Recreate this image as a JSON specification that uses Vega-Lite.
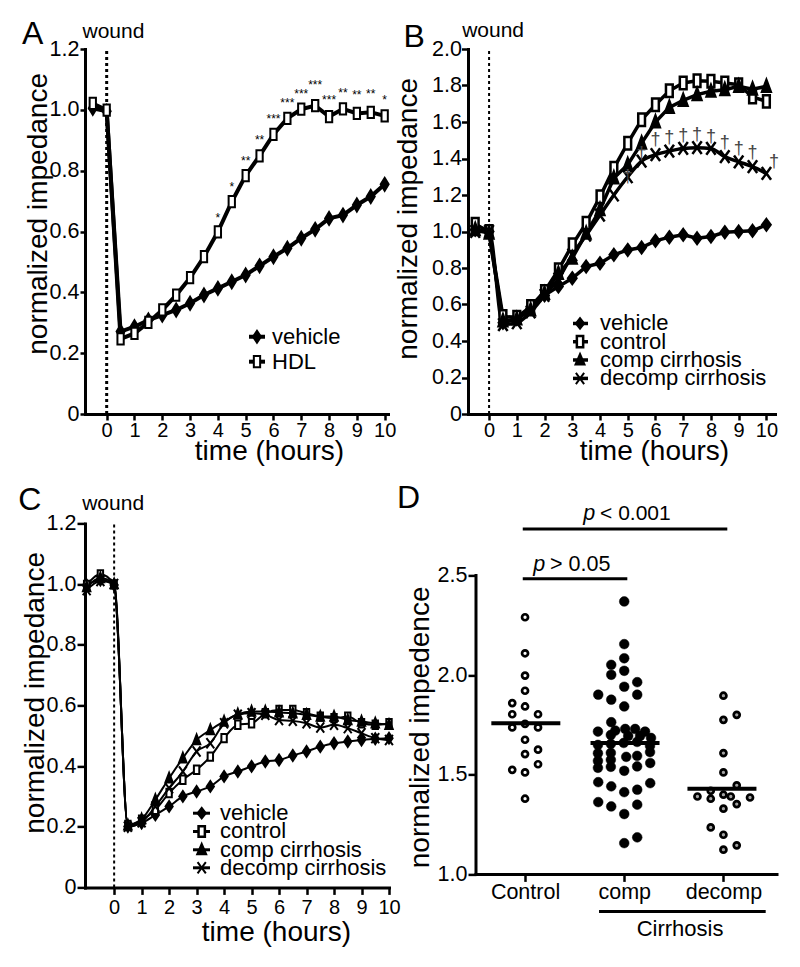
{
  "$schema": "https://vega.github.io/schema/vega-lite/v6.json",
  "background": "white",
  "padding": {"left": 18, "top": 18, "right": 5, "bottom": 5},
  "config": {
    "font": "Liberation Sans",
    "view": {"stroke": null},
    "axis": {"grid": false, "domainColor": "black", "domainWidth": 3, "domainCap": "square", "tickColor": "black", "tickWidth": 2.5, "labelColor": "black", "labelFontSize": 21.5, "labelFont": "Liberation Sans", "titleFont": "Liberation Sans", "titleFontSize": 28, "titleFontWeight": "normal", "titleColor": "black", "labelFlush": false, "labelOverlap": false, "tickCount": 20},
    "text": {"font": "Liberation Sans", "color": "black"}
  },
  "resolve": {"scale": {"shape": "independent", "fill": "independent"}},
  "datasets": {
    "one": [{"k": 1}],
    "A": [
      {"s":"vehicle","t":-0.5,"v":1.005},{"s":"vehicle","t":0,"v":0.995},{"s":"vehicle","t":0.5,"v":0.271},{"s":"vehicle","t":1,"v":0.287},{"s":"vehicle","t":1.5,"v":0.309},{"s":"vehicle","t":2,"v":0.325},{"s":"vehicle","t":2.5,"v":0.342},{"s":"vehicle","t":3,"v":0.364},{"s":"vehicle","t":3.5,"v":0.391},{"s":"vehicle","t":4,"v":0.413},{"s":"vehicle","t":4.5,"v":0.435},{"s":"vehicle","t":5,"v":0.457},{"s":"vehicle","t":5.5,"v":0.487},{"s":"vehicle","t":6,"v":0.517},{"s":"vehicle","t":6.5,"v":0.545},{"s":"vehicle","t":7,"v":0.578},{"s":"vehicle","t":7.5,"v":0.607},{"s":"vehicle","t":8,"v":0.643},{"s":"vehicle","t":8.5,"v":0.654},{"s":"vehicle","t":9,"v":0.687},{"s":"vehicle","t":9.5,"v":0.715},{"s":"vehicle","t":10,"v":0.755},
      {"s":"HDL","t":-0.5,"v":1.021},{"s":"HDL","t":0,"v":0.999},{"s":"HDL","t":0.5,"v":0.247},{"s":"HDL","t":1,"v":0.265},{"s":"HDL","t":1.5,"v":0.301},{"s":"HDL","t":2,"v":0.342},{"s":"HDL","t":2.5,"v":0.391},{"s":"HDL","t":3,"v":0.448},{"s":"HDL","t":3.5,"v":0.517},{"s":"HDL","t":4,"v":0.599},{"s":"HDL","t":4.5,"v":0.698},{"s":"HDL","t":5,"v":0.784},{"s":"HDL","t":5.5,"v":0.849},{"s":"HDL","t":6,"v":0.919},{"s":"HDL","t":6.5,"v":0.972},{"s":"HDL","t":7,"v":1.002},{"s":"HDL","t":7.5,"v":1.014},{"s":"HDL","t":8,"v":0.978},{"s":"HDL","t":8.5,"v":1.003},{"s":"HDL","t":9,"v":0.988},{"s":"HDL","t":9.5,"v":0.992},{"s":"HDL","t":10,"v":0.980}
    ],
    "Astars": [
      {"t":4,"v":0.631,"lab":"*"},{"t":4.5,"v":0.732,"lab":"*"},{"t":5,"v":0.817,"lab":"**"},{"t":5.5,"v":0.889,"lab":"**"},{"t":6,"v":0.957,"lab":"***"},{"t":6.5,"v":1.009,"lab":"***"},{"t":7,"v":1.040,"lab":"***"},{"t":7.5,"v":1.069,"lab":"***"},{"t":8,"v":1.018,"lab":"***"},{"t":8.5,"v":1.042,"lab":"**"},{"t":9,"v":1.036,"lab":"**"},{"t":9.5,"v":1.040,"lab":"**"},{"t":10,"v":1.018,"lab":"*"}
    ],
    "B": [
      {"s":"vehicle","t":-0.5,"v":1.01},{"s":"vehicle","t":0,"v":1.0},{"s":"vehicle","t":0.5,"v":0.50},{"s":"vehicle","t":1,"v":0.52},{"s":"vehicle","t":1.5,"v":0.58},{"s":"vehicle","t":2,"v":0.65},{"s":"vehicle","t":2.5,"v":0.698},{"s":"vehicle","t":3,"v":0.744},{"s":"vehicle","t":3.5,"v":0.808},{"s":"vehicle","t":4,"v":0.826},{"s":"vehicle","t":4.5,"v":0.872},{"s":"vehicle","t":5,"v":0.899},{"s":"vehicle","t":5.5,"v":0.912},{"s":"vehicle","t":6,"v":0.949},{"s":"vehicle","t":6.5,"v":0.969},{"s":"vehicle","t":7,"v":0.982},{"s":"vehicle","t":7.5,"v":0.963},{"s":"vehicle","t":8,"v":0.973},{"s":"vehicle","t":8.5,"v":0.996},{"s":"vehicle","t":9,"v":1.0},{"s":"vehicle","t":9.5,"v":1.004},{"s":"vehicle","t":10,"v":1.037},
      {"s":"control","t":-0.5,"v":1.04},{"s":"control","t":0,"v":1.0},{"s":"control","t":0.5,"v":0.534},{"s":"control","t":1,"v":0.53},{"s":"control","t":1.5,"v":0.589},{"s":"control","t":2,"v":0.671},{"s":"control","t":2.5,"v":0.79},{"s":"control","t":3,"v":0.927},{"s":"control","t":3.5,"v":1.046},{"s":"control","t":4,"v":1.19},{"s":"control","t":4.5,"v":1.347},{"s":"control","t":5,"v":1.484},{"s":"control","t":5.5,"v":1.612},{"s":"control","t":6,"v":1.695},{"s":"control","t":6.5,"v":1.771},{"s":"control","t":7,"v":1.814},{"s":"control","t":7.5,"v":1.826},{"s":"control","t":8,"v":1.823},{"s":"control","t":8.5,"v":1.814},{"s":"control","t":9,"v":1.804},{"s":"control","t":9.5,"v":1.737},{"s":"control","t":10,"v":1.713},
      {"s":"comp","t":-0.5,"v":1.01},{"s":"comp","t":0,"v":0.99},{"s":"comp","t":0.5,"v":0.51},{"s":"comp","t":1,"v":0.52},{"s":"comp","t":1.5,"v":0.57},{"s":"comp","t":2,"v":0.66},{"s":"comp","t":2.5,"v":0.77},{"s":"comp","t":3,"v":0.854},{"s":"comp","t":3.5,"v":0.99},{"s":"comp","t":4,"v":1.119},{"s":"comp","t":4.5,"v":1.293},{"s":"comp","t":5,"v":1.366},{"s":"comp","t":5.5,"v":1.484},{"s":"comp","t":6,"v":1.60},{"s":"comp","t":6.5,"v":1.68},{"s":"comp","t":7,"v":1.718},{"s":"comp","t":7.5,"v":1.75},{"s":"comp","t":8,"v":1.768},{"s":"comp","t":8.5,"v":1.777},{"s":"comp","t":9,"v":1.795},{"s":"comp","t":9.5,"v":1.78},{"s":"comp","t":10,"v":1.795},
      {"s":"decomp","t":-0.5,"v":1.0},{"s":"decomp","t":0,"v":1.0},{"s":"decomp","t":0.5,"v":0.49},{"s":"decomp","t":1,"v":0.50},{"s":"decomp","t":1.5,"v":0.56},{"s":"decomp","t":2,"v":0.65},{"s":"decomp","t":2.5,"v":0.74},{"s":"decomp","t":3,"v":0.872},{"s":"decomp","t":3.5,"v":0.98},{"s":"decomp","t":4,"v":1.09},{"s":"decomp","t":4.5,"v":1.2},{"s":"decomp","t":5,"v":1.30},{"s":"decomp","t":5.5,"v":1.386},{"s":"decomp","t":6,"v":1.421},{"s":"decomp","t":6.5,"v":1.441},{"s":"decomp","t":7,"v":1.455},{"s":"decomp","t":7.5,"v":1.459},{"s":"decomp","t":8,"v":1.455},{"s":"decomp","t":8.5,"v":1.41},{"s":"decomp","t":9,"v":1.382},{"s":"decomp","t":9.5,"v":1.355},{"s":"decomp","t":10,"v":1.318}
    ],
    "Bdag": [
      {"t":5,"v":1.27,"lab":"†"},{"t":5.5,"v":1.395,"lab":"†"},{"t":6,"v":1.472,"lab":"†"},{"t":6.5,"v":1.484,"lab":"†"},{"t":7,"v":1.495,"lab":"†"},{"t":7.5,"v":1.50,"lab":"†"},{"t":8,"v":1.492,"lab":"†"},{"t":8.5,"v":1.457,"lab":"†"},{"t":9,"v":1.426,"lab":"†"},{"t":9.5,"v":1.404,"lab":"†"},{"t":10.27,"v":1.356,"lab":"†"}
    ],
    "C": [
      {"s":"vehicle","t":-1,"v":0.997},{"s":"vehicle","t":-0.5,"v":1.013},{"s":"vehicle","t":0,"v":0.997},{"s":"vehicle","t":0.5,"v":0.201},{"s":"vehicle","t":1,"v":0.212},{"s":"vehicle","t":1.5,"v":0.239},{"s":"vehicle","t":2,"v":0.267},{"s":"vehicle","t":2.5,"v":0.30},{"s":"vehicle","t":3,"v":0.316},{"s":"vehicle","t":3.5,"v":0.333},{"s":"vehicle","t":4,"v":0.366},{"s":"vehicle","t":4.5,"v":0.382},{"s":"vehicle","t":5,"v":0.399},{"s":"vehicle","t":5.5,"v":0.415},{"s":"vehicle","t":6,"v":0.42},{"s":"vehicle","t":6.5,"v":0.435},{"s":"vehicle","t":7,"v":0.448},{"s":"vehicle","t":7.5,"v":0.464},{"s":"vehicle","t":8,"v":0.475},{"s":"vehicle","t":8.5,"v":0.481},{"s":"vehicle","t":9,"v":0.486},{"s":"vehicle","t":9.5,"v":0.49},{"s":"vehicle","t":10,"v":0.492},
      {"s":"control","t":-1,"v":0.997},{"s":"control","t":-0.5,"v":1.032},{"s":"control","t":0,"v":0.999},{"s":"control","t":0.5,"v":0.206},{"s":"control","t":1,"v":0.223},{"s":"control","t":1.5,"v":0.256},{"s":"control","t":2,"v":0.311},{"s":"control","t":2.5,"v":0.355},{"s":"control","t":3,"v":0.388},{"s":"control","t":3.5,"v":0.431},{"s":"control","t":4,"v":0.492},{"s":"control","t":4.5,"v":0.536},{"s":"control","t":5,"v":0.541},{"s":"control","t":5.5,"v":0.574},{"s":"control","t":6,"v":0.585},{"s":"control","t":6.5,"v":0.585},{"s":"control","t":7,"v":0.574},{"s":"control","t":7.5,"v":0.563},{"s":"control","t":8,"v":0.558},{"s":"control","t":8.5,"v":0.563},{"s":"control","t":9,"v":0.541},{"s":"control","t":9.5,"v":0.536},{"s":"control","t":10,"v":0.541},
      {"s":"comp","t":-1,"v":0.99},{"s":"comp","t":-0.5,"v":1.02},{"s":"comp","t":0,"v":1.0},{"s":"comp","t":0.5,"v":0.205},{"s":"comp","t":1,"v":0.225},{"s":"comp","t":1.5,"v":0.289},{"s":"comp","t":2,"v":0.36},{"s":"comp","t":2.5,"v":0.426},{"s":"comp","t":3,"v":0.486},{"s":"comp","t":3.5,"v":0.519},{"s":"comp","t":4,"v":0.547},{"s":"comp","t":4.5,"v":0.571},{"s":"comp","t":5,"v":0.58},{"s":"comp","t":5.5,"v":0.58},{"s":"comp","t":6,"v":0.577},{"s":"comp","t":6.5,"v":0.574},{"s":"comp","t":7,"v":0.569},{"s":"comp","t":7.5,"v":0.563},{"s":"comp","t":8,"v":0.563},{"s":"comp","t":8.5,"v":0.552},{"s":"comp","t":9,"v":0.547},{"s":"comp","t":9.5,"v":0.541},{"s":"comp","t":10,"v":0.536},
      {"s":"decomp","t":-1,"v":0.98},{"s":"decomp","t":-0.5,"v":1.01},{"s":"decomp","t":0,"v":1.0},{"s":"decomp","t":0.5,"v":0.2},{"s":"decomp","t":1,"v":0.215},{"s":"decomp","t":1.5,"v":0.267},{"s":"decomp","t":2,"v":0.327},{"s":"decomp","t":2.5,"v":0.382},{"s":"decomp","t":3,"v":0.448},{"s":"decomp","t":3.5,"v":0.475},{"s":"decomp","t":4,"v":0.541},{"s":"decomp","t":4.5,"v":0.569},{"s":"decomp","t":5,"v":0.574},{"s":"decomp","t":5.5,"v":0.569},{"s":"decomp","t":6,"v":0.552},{"s":"decomp","t":6.5,"v":0.549},{"s":"decomp","t":7,"v":0.541},{"s":"decomp","t":7.5,"v":0.527},{"s":"decomp","t":8,"v":0.536},{"s":"decomp","t":8.5,"v":0.525},{"s":"decomp","t":9,"v":0.508},{"s":"decomp","t":9.5,"v":0.492},{"s":"decomp","t":10,"v":0.486}
    ],
    "D": [
      {"g":"Control","x":1,"v":2.291},{"g":"Control","x":1,"v":2.110},{"g":"Control","x":1,"v":1.998},{"g":"Control","x":1,"v":1.922},{"g":"Control","x":0.871,"v":1.860},{"g":"Control","x":1,"v":1.843},{"g":"Control","x":0.871,"v":1.804},{"g":"Control","x":1.131,"v":1.804},{"g":"Control","x":0.871,"v":1.738},{"g":"Control","x":1,"v":1.756},{"g":"Control","x":1.131,"v":1.738},{"g":"Control","x":1,"v":1.676},{"g":"Control","x":1,"v":1.604},{"g":"Control","x":1.131,"v":1.626},{"g":"Control","x":1.131,"v":1.553},{"g":"Control","x":0.871,"v":1.525},{"g":"Control","x":1,"v":1.512},{"g":"Control","x":1,"v":1.38},
      {"g":"comp","x":2,"v":2.370},{"g":"comp","x":2,"v":2.156},{"g":"comp","x":2,"v":2.085},{"g":"comp","x":1.869,"v":2.052},{"g":"comp","x":1.869,"v":2.002},{"g":"comp","x":2,"v":2.022},{"g":"comp","x":2.131,"v":1.965},{"g":"comp","x":2,"v":1.942},{"g":"comp","x":1.738,"v":1.902},{"g":"comp","x":2.131,"v":1.902},{"g":"comp","x":1.869,"v":1.877},{"g":"comp","x":2,"v":1.843},{"g":"comp","x":1.869,"v":1.764},
      {"g":"comp","x":1.735,"v":1.717},{"g":"comp","x":1.91,"v":1.722},{"g":"comp","x":2.01,"v":1.73},{"g":"comp","x":2.11,"v":1.73},{"g":"comp","x":2.21,"v":1.717},
      {"g":"comp","x":1.865,"v":1.70},{"g":"comp","x":2.04,"v":1.695},{"g":"comp","x":2.16,"v":1.695},{"g":"comp","x":2.27,"v":1.685},
      {"g":"comp","x":1.735,"v":1.65},{"g":"comp","x":1.865,"v":1.655},{"g":"comp","x":1.995,"v":1.66},{"g":"comp","x":2.13,"v":1.665},{"g":"comp","x":2.26,"v":1.645},
      {"g":"comp","x":1.735,"v":1.608},{"g":"comp","x":1.865,"v":1.61},{"g":"comp","x":2.02,"v":1.59},{"g":"comp","x":2.13,"v":1.595},{"g":"comp","x":2.26,"v":1.614},
      {"g":"comp","x":1.735,"v":1.57},{"g":"comp","x":1.865,"v":1.575},
      {"g":"comp","x":1.735,"v":1.535},{"g":"comp","x":1.865,"v":1.54},{"g":"comp","x":2.0,"v":1.52},{"g":"comp","x":2.13,"v":1.542},{"g":"comp","x":2.262,"v":1.559},
      {"g":"comp","x":1.738,"v":1.463},{"g":"comp","x":1.869,"v":1.442},{"g":"comp","x":2.262,"v":1.458},{"g":"comp","x":2,"v":1.413},{"g":"comp","x":2.131,"v":1.425},{"g":"comp","x":1.738,"v":1.363},{"g":"comp","x":1.869,"v":1.341},{"g":"comp","x":2.131,"v":1.350},{"g":"comp","x":2,"v":1.303},{"g":"comp","x":2.131,"v":1.186},{"g":"comp","x":2,"v":1.157},
      {"g":"decomp","x":3,"v":1.897},{"g":"decomp","x":3,"v":1.776},{"g":"decomp","x":3.134,"v":1.801},{"g":"decomp","x":3,"v":1.609},{"g":"decomp","x":3,"v":1.512},{"g":"decomp","x":3.134,"v":1.447},{"g":"decomp","x":2.872,"v":1.420},{"g":"decomp","x":2.738,"v":1.391},{"g":"decomp","x":2.872,"v":1.380},{"g":"decomp","x":3,"v":1.400},{"g":"decomp","x":3.074,"v":1.391},{"g":"decomp","x":3.268,"v":1.386},{"g":"decomp","x":3.134,"v":1.353},{"g":"decomp","x":3,"v":1.330},{"g":"decomp","x":2.872,"v":1.236},{"g":"decomp","x":3,"v":1.199},{"g":"decomp","x":3.134,"v":1.146},{"g":"decomp","x":3,"v":1.124}
    ],
    "Dmed": [
      {"g":"Control","x":1.008,"v":1.759},{"g":"comp","x":2.008,"v":1.659},{"g":"decomp","x":2.985,"v":1.43}
    ]
  },
  "columns": 2,
  "bounds": "flush",
  "align": "each",
  "spacing": {"row": 109.4, "column": 79},
  "concat": [
    {
      "width": 303, "height": 365,
      "layer": [
        {"data": {"name": "one"}, "mark": {"type": "rule", "color": "black", "strokeWidth": 3, "strokeDash": [3, 3]},
         "encoding": {"x": {"datum": 0, "type": "quantitative"}, "y": {"datum": 0, "type": "quantitative"}, "y2": {"datum": 1.2}}},
        {"data": {"name": "A"}, "mark": {"type": "line", "color": "black", "strokeWidth": 4},
         "encoding": {
           "x": {"field": "t", "type": "quantitative", "scale": {"domain": [-0.78, 10.12], "nice": false, "zero": false},
                 "axis": {"values": [0,1,2,3,4,5,6,7,8,9,10], "format": "d", "tickCount": 20, "labelOverlap": false, "labelFontSize": 20, "title": "time (hours)", "titleX": 184, "titleY": 45.5, "titleBaseline": "alphabetic", "titleAlign": "center", "tickSize": 6, "labelPadding": 0}},
           "y": {"field": "v", "type": "quantitative", "scale": {"domain": [0, 1.2], "nice": false, "zero": false},
                 "axis": {"values": [0,0.2,0.4,0.6,0.8,1,1.2], "tickCount": 20, "labelOverlap": false, "labelExpr": "datum.value == 0 ? '0' : format(datum.value, '.1f')", "title": "normalized impedance", "titleX": -39, "titleY": 164.4, "titleAngle": -90, "titleAlign": "center", "titleBaseline": "alphabetic", "tickSize": 5, "labelPadding": 1}},
           "detail": {"field": "s"}}},
        {"data": {"name": "A"}, "mark": {"type": "point", "stroke": "black", "strokeWidth": 2, "opacity": 1, "size": 225},
         "encoding": {
           "x": {"field": "t", "type": "quantitative"},
           "y": {"field": "v", "type": "quantitative"},
           "shape": {"field": "s", "type": "nominal", "scale": {"domain": ["vehicle", "HDL"], "range": ["M0,-0.87L0.53,0L0,0.87L-0.53,0Z", "M-0.42,-0.75H0.42V0.75H-0.42Z"]}, "legend": null},
           "fill": {"field": "s", "type": "nominal", "scale": {"domain": ["vehicle", "HDL"], "range": ["black", "white"]}, "legend": null}
         }},
        {"data": {"name": "Astars"}, "mark": {"type": "text", "fontSize": 12, "baseline": "alphabetic", "align": "center"},
         "encoding": {"x": {"field": "t", "type": "quantitative"}, "y": {"field": "v", "type": "quantitative"}, "text": {"field": "lab"}}},
        {"data": {"name": "one"}, "mark": {"type": "rule", "color": "black", "strokeWidth": 4},
         "encoding": {"x": {"datum": 5.119, "type": "quantitative"}, "x2": {"datum": 5.695}, "y": {"datum": 0.254, "type": "quantitative"}}},
        {"data": {"name": "one"}, "mark": {"type": "point", "shape": "M0,-0.8L0.53,0L0,0.8L-0.53,0Z", "fill": "black", "stroke": "black", "strokeWidth": 2, "size": 225, "opacity": 1},
         "encoding": {"x": {"datum": 5.407, "type": "quantitative"}, "y": {"datum": 0.254, "type": "quantitative"}}},
        {"data": {"name": "one"}, "mark": {"type": "text", "text": "vehicle", "fontSize": 22, "baseline": "middle", "align": "left"},
         "encoding": {"x": {"datum": 5.947, "type": "quantitative"}, "y": {"datum": 0.254, "type": "quantitative"}}},
        {"data": {"name": "one"}, "mark": {"type": "rule", "color": "black", "strokeWidth": 4},
         "encoding": {"x": {"datum": 5.119, "type": "quantitative"}, "x2": {"datum": 5.695}, "y": {"datum": 0.172, "type": "quantitative"}}},
        {"data": {"name": "one"}, "mark": {"type": "point", "shape": "M-0.42,-0.75H0.42V0.75H-0.42Z", "fill": "white", "stroke": "black", "strokeWidth": 2, "size": 225, "opacity": 1},
         "encoding": {"x": {"datum": 5.407, "type": "quantitative"}, "y": {"datum": 0.172, "type": "quantitative"}}},
        {"data": {"name": "one"}, "mark": {"type": "text", "text": "HDL", "fontSize": 22, "baseline": "middle", "align": "left"},
         "encoding": {"x": {"datum": 5.947, "type": "quantitative"}, "y": {"datum": 0.172, "type": "quantitative"}}},
        {"data": {"name": "one"}, "mark": {"type": "text", "text": "wound", "fontSize": 21, "baseline": "alphabetic", "align": "center"},
         "encoding": {"x": {"datum": 0.244, "type": "quantitative"}, "y": {"datum": 1.235, "type": "quantitative"}}},
        {"data": {"name": "one"}, "mark": {"type": "text", "text": "A", "fontSize": 32, "baseline": "alphabetic", "align": "center"},
         "encoding": {"x": {"datum": -2.666, "type": "quantitative"}, "y": {"datum": 1.2155, "type": "quantitative"}}}
      ]
    },
    {
      "width": 307, "height": 365,
      "layer": [
        {"data": {"name": "one"}, "mark": {"type": "rule", "color": "black", "strokeWidth": 2, "strokeDash": [3, 3]},
         "encoding": {"x": {"datum": 0, "type": "quantitative"}, "y": {"datum": 0, "type": "quantitative"}, "y2": {"datum": 2.0}}},
        {"data": {"name": "B"}, "transform": [{"filter": "datum.s != 'decomp'"}], "mark": {"type": "line", "color": "black", "strokeWidth": 3.5},
         "encoding": {
           "x": {"field": "t", "type": "quantitative", "scale": {"domain": [-0.76, 10.31], "nice": false, "zero": false},
                 "axis": {"values": [0,1,2,3,4,5,6,7,8,9,10], "format": "d", "tickCount": 20, "labelOverlap": false, "labelFontSize": 20, "title": "time (hours)", "titleX": 186, "titleY": 45.5, "titleBaseline": "alphabetic", "titleAlign": "center", "tickSize": 6, "labelPadding": 0}},
           "y": {"field": "v", "type": "quantitative", "scale": {"domain": [0, 2.0], "nice": false, "zero": false},
                 "axis": {"values": [0,0.2,0.4,0.6,0.8,1,1.2,1.4,1.6,1.8,2.0], "tickCount": 20, "labelOverlap": false, "labelExpr": "datum.value == 0 ? '0' : format(datum.value, '.1f')", "title": "normalized impedance", "titleX": -52, "titleY": 169.4, "titleAngle": -90, "titleAlign": "center", "titleBaseline": "alphabetic", "tickSize": 6.5, "labelPadding": 0}},
           "detail": {"field": "s"}}},
        {"data": {"name": "B"}, "transform": [{"filter": "datum.s == 'decomp'"}], "mark": {"type": "line", "color": "black", "strokeWidth": 3.5, "interpolate": "monotone"},
         "encoding": {"x": {"field": "t", "type": "quantitative"}, "y": {"field": "v", "type": "quantitative"}}},
        {"data": {"name": "B"}, "mark": {"type": "point", "stroke": "black", "strokeWidth": 2.5, "opacity": 1, "size": 225},
         "encoding": {
           "x": {"field": "t", "type": "quantitative"},
           "y": {"field": "v", "type": "quantitative"},
           "shape": {"field": "s", "type": "nominal", "scale": {"domain": ["vehicle", "control", "comp", "decomp"], "range": ["M0,-0.75L0.55,0L0,0.75L-0.55,0Z", "M-0.45,-0.83H0.45V0.83H-0.45Z", "M0,-0.85L0.58,0.7L-0.58,0.7Z", "M-0.62,-0.85L0.62,0.85M0.62,-0.85L-0.62,0.85"]}, "legend": null},
           "fill": {"field": "s", "type": "nominal", "scale": {"domain": ["vehicle", "control", "comp", "decomp"], "range": ["black", "white", "black", "black"]}, "legend": null}
         }},
        {"data": {"name": "Bdag"}, "mark": {"type": "text", "fontSize": 18, "baseline": "alphabetic", "align": "center", "color": "#444444"},
         "encoding": {"x": {"field": "t", "type": "quantitative"}, "y": {"field": "v", "type": "quantitative"}, "text": {"field": "lab"}}},
        {"data": {"name": "one"}, "mark": {"type": "rule", "color": "black", "strokeWidth": 3.5},
         "encoding": {"x": {"datum": 3.026, "type": "quantitative"}, "x2": {"datum": 3.567}, "y": {"datum": 0.496, "type": "quantitative"}}},
        {"data": {"name": "one"}, "mark": {"type": "point", "shape": "M0,-0.7L0.55,0L0,0.7L-0.55,0Z", "fill": "black", "stroke": "black", "strokeWidth": 2, "size": 225, "opacity": 1},
         "encoding": {"x": {"datum": 3.279, "type": "quantitative"}, "y": {"datum": 0.496, "type": "quantitative"}}},
        {"data": {"name": "one"}, "mark": {"type": "text", "text": "vehicle", "fontSize": 22, "baseline": "middle", "align": "left"},
         "encoding": {"x": {"datum": 4.0, "type": "quantitative"}, "y": {"datum": 0.496, "type": "quantitative"}}},
        {"data": {"name": "one"}, "mark": {"type": "rule", "color": "black", "strokeWidth": 3.5},
         "encoding": {"x": {"datum": 3.026, "type": "quantitative"}, "x2": {"datum": 3.567}, "y": {"datum": 0.396, "type": "quantitative"}}},
        {"data": {"name": "one"}, "mark": {"type": "point", "shape": "M-0.42,-0.75H0.42V0.75H-0.42Z", "fill": "white", "stroke": "black", "strokeWidth": 2.5, "size": 225, "opacity": 1},
         "encoding": {"x": {"datum": 3.279, "type": "quantitative"}, "y": {"datum": 0.396, "type": "quantitative"}}},
        {"data": {"name": "one"}, "mark": {"type": "text", "text": "control", "fontSize": 22, "baseline": "middle", "align": "left"},
         "encoding": {"x": {"datum": 4.0, "type": "quantitative"}, "y": {"datum": 0.396, "type": "quantitative"}}},
        {"data": {"name": "one"}, "mark": {"type": "rule", "color": "black", "strokeWidth": 3.5},
         "encoding": {"x": {"datum": 3.026, "type": "quantitative"}, "x2": {"datum": 3.567}, "y": {"datum": 0.296, "type": "quantitative"}}},
        {"data": {"name": "one"}, "mark": {"type": "point", "shape": "M0,-0.8L0.6,0.6L-0.6,0.6Z", "fill": "black", "stroke": "black", "strokeWidth": 2, "size": 225, "opacity": 1},
         "encoding": {"x": {"datum": 3.279, "type": "quantitative"}, "y": {"datum": 0.296, "type": "quantitative"}}},
        {"data": {"name": "one"}, "mark": {"type": "text", "text": "comp cirrhosis", "fontSize": 22, "baseline": "middle", "align": "left"},
         "encoding": {"x": {"datum": 4.0, "type": "quantitative"}, "y": {"datum": 0.296, "type": "quantitative"}}},
        {"data": {"name": "one"}, "mark": {"type": "rule", "color": "black", "strokeWidth": 3.5},
         "encoding": {"x": {"datum": 3.026, "type": "quantitative"}, "x2": {"datum": 3.567}, "y": {"datum": 0.195, "type": "quantitative"}}},
        {"data": {"name": "one"}, "mark": {"type": "point", "shape": "M-0.55,-0.75L0.55,0.75M0.55,-0.75L-0.55,0.75", "fill": "black", "stroke": "black", "strokeWidth": 2, "size": 225, "opacity": 1},
         "encoding": {"x": {"datum": 3.279, "type": "quantitative"}, "y": {"datum": 0.195, "type": "quantitative"}}},
        {"data": {"name": "one"}, "mark": {"type": "text", "text": "decomp cirrhosis", "fontSize": 22, "baseline": "middle", "align": "left"},
         "encoding": {"x": {"datum": 4.0, "type": "quantitative"}, "y": {"datum": 0.195, "type": "quantitative"}}},
        {"data": {"name": "one"}, "mark": {"type": "text", "text": "wound", "fontSize": 21, "baseline": "alphabetic", "align": "center"},
         "encoding": {"x": {"datum": 0.144, "type": "quantitative"}, "y": {"datum": 2.067, "type": "quantitative"}}},
        {"data": {"name": "one"}, "mark": {"type": "text", "text": "B", "fontSize": 32, "baseline": "alphabetic", "align": "center"},
         "encoding": {"x": {"datum": -2.70, "type": "quantitative"}, "y": {"datum": 2.013, "type": "quantitative"}}}
      ]
    },
    {
      "width": 304, "height": 364,
      "layer": [
        {"data": {"name": "one"}, "mark": {"type": "rule", "color": "black", "strokeWidth": 2, "strokeDash": [3, 3]},
         "encoding": {"x": {"datum": 0, "type": "quantitative"}, "y": {"datum": 0, "type": "quantitative"}, "y2": {"datum": 1.2}}},
        {"data": {"name": "C"}, "mark": {"type": "line", "color": "black", "strokeWidth": 2, "interpolate": "monotone"},
         "encoding": {
           "x": {"field": "t", "type": "quantitative", "scale": {"domain": [-1.06, 10.0], "nice": false, "zero": false},
                 "axis": {"values": [0,1,2,3,4,5,6,7,8,9,10], "format": "d", "tickCount": 20, "labelOverlap": false, "labelFontSize": 20, "title": "time (hours)", "titleX": 191, "titleY": 53.5, "titleBaseline": "alphabetic", "titleAlign": "center", "tickSize": 7, "labelPadding": 3}},
           "y": {"field": "v", "type": "quantitative", "scale": {"domain": [0, 1.2], "nice": false, "zero": false},
                 "axis": {"values": [0,0.2,0.4,0.6,0.8,1,1.2], "tickCount": 20, "labelOverlap": false, "labelExpr": "datum.value == 0 ? '0' : format(datum.value, '.1f')", "title": "normalized impedance", "titleX": -42, "titleY": 169, "titleAngle": -90, "titleAlign": "center", "titleBaseline": "alphabetic", "tickSize": 8, "labelPadding": 1}},
           "detail": {"field": "s"}}},
        {"data": {"name": "C"}, "mark": {"type": "point", "stroke": "black", "strokeWidth": 2, "opacity": 1, "size": 144},
         "encoding": {
           "x": {"field": "t", "type": "quantitative"},
           "y": {"field": "v", "type": "quantitative"},
           "shape": {"field": "s", "type": "nominal", "scale": {"domain": ["vehicle", "control", "comp", "decomp"], "range": ["M0,-0.9L0.6,0L0,0.9L-0.6,0Z", "M-0.45,-0.7H0.45V0.7H-0.45Z", "M0,-0.9L0.62,0.7L-0.62,0.7Z", "M-0.65,-0.85L0.65,0.85M0.65,-0.85L-0.65,0.85"]}, "legend": null},
           "fill": {"field": "s", "type": "nominal", "scale": {"domain": ["vehicle", "control", "comp", "decomp"], "range": ["black", "white", "black", "black"]}, "legend": null}
         }},
        {"data": {"name": "one"}, "mark": {"type": "rule", "color": "black", "strokeWidth": 3},
         "encoding": {"x": {"datum": 2.869, "type": "quantitative"}, "x2": {"datum": 3.488}, "y": {"datum": 0.2446, "type": "quantitative"}}},
        {"data": {"name": "one"}, "mark": {"type": "point", "shape": "M0,-0.7L0.55,0L0,0.7L-0.55,0Z", "fill": "black", "stroke": "black", "strokeWidth": 2, "size": 225, "opacity": 1},
         "encoding": {"x": {"datum": 3.186, "type": "quantitative"}, "y": {"datum": 0.2446, "type": "quantitative"}}},
        {"data": {"name": "one"}, "mark": {"type": "text", "text": "vehicle", "fontSize": 22, "baseline": "middle", "align": "left"},
         "encoding": {"x": {"datum": 3.852, "type": "quantitative"}, "y": {"datum": 0.2446, "type": "quantitative"}}},
        {"data": {"name": "one"}, "mark": {"type": "rule", "color": "black", "strokeWidth": 3},
         "encoding": {"x": {"datum": 2.869, "type": "quantitative"}, "x2": {"datum": 3.488}, "y": {"datum": 0.1843, "type": "quantitative"}}},
        {"data": {"name": "one"}, "mark": {"type": "point", "shape": "M-0.42,-0.7H0.42V0.7H-0.42Z", "fill": "white", "stroke": "black", "strokeWidth": 2.5, "size": 225, "opacity": 1},
         "encoding": {"x": {"datum": 3.186, "type": "quantitative"}, "y": {"datum": 0.1843, "type": "quantitative"}}},
        {"data": {"name": "one"}, "mark": {"type": "text", "text": "control", "fontSize": 22, "baseline": "middle", "align": "left"},
         "encoding": {"x": {"datum": 3.852, "type": "quantitative"}, "y": {"datum": 0.1843, "type": "quantitative"}}},
        {"data": {"name": "one"}, "mark": {"type": "rule", "color": "black", "strokeWidth": 3},
         "encoding": {"x": {"datum": 2.869, "type": "quantitative"}, "x2": {"datum": 3.488}, "y": {"datum": 0.124, "type": "quantitative"}}},
        {"data": {"name": "one"}, "mark": {"type": "point", "shape": "M0,-0.8L0.6,0.6L-0.6,0.6Z", "fill": "black", "stroke": "black", "strokeWidth": 2, "size": 225, "opacity": 1},
         "encoding": {"x": {"datum": 3.186, "type": "quantitative"}, "y": {"datum": 0.124, "type": "quantitative"}}},
        {"data": {"name": "one"}, "mark": {"type": "text", "text": "comp cirrhosis", "fontSize": 22, "baseline": "middle", "align": "left"},
         "encoding": {"x": {"datum": 3.852, "type": "quantitative"}, "y": {"datum": 0.124, "type": "quantitative"}}},
        {"data": {"name": "one"}, "mark": {"type": "rule", "color": "black", "strokeWidth": 3},
         "encoding": {"x": {"datum": 2.869, "type": "quantitative"}, "x2": {"datum": 3.488}, "y": {"datum": 0.0646, "type": "quantitative"}}},
        {"data": {"name": "one"}, "mark": {"type": "point", "shape": "M-0.55,-0.75L0.55,0.75M0.55,-0.75L-0.55,0.75", "fill": "black", "stroke": "black", "strokeWidth": 2, "size": 225, "opacity": 1},
         "encoding": {"x": {"datum": 3.186, "type": "quantitative"}, "y": {"datum": 0.0646, "type": "quantitative"}}},
        {"data": {"name": "one"}, "mark": {"type": "text", "text": "decomp cirrhosis", "fontSize": 22, "baseline": "middle", "align": "left"},
         "encoding": {"x": {"datum": 3.852, "type": "quantitative"}, "y": {"datum": 0.0646, "type": "quantitative"}}},
        {"data": {"name": "one"}, "mark": {"type": "text", "text": "wound", "fontSize": 21, "baseline": "alphabetic", "align": "center"},
         "encoding": {"x": {"datum": -0.036, "type": "quantitative"}, "y": {"datum": 1.245, "type": "quantitative"}}},
        {"data": {"name": "one"}, "mark": {"type": "text", "text": "C", "fontSize": 32, "baseline": "alphabetic", "align": "center"},
         "encoding": {"x": {"datum": -3.065, "type": "quantitative"}, "y": {"datum": 1.244, "type": "quantitative"}}}
      ]
    },
    {
      "width": 309, "height": 351,
      "layer": [
        {"data": {"name": "one"}, "mark": {"type": "rule", "color": "black", "strokeWidth": 3, "strokeCap": "square"},
         "encoding": {"x": {"datum": 0.5056, "type": "quantitative"}, "y": {"datum": 1.0, "type": "quantitative"}, "y2": {"datum": 2.5}}},
        {"data": {"name": "one"}, "mark": {"type": "rule", "color": "black", "strokeWidth": 3, "strokeCap": "square"},
         "encoding": {"x": {"datum": 0.5056, "type": "quantitative"}, "x2": {"datum": 3.54}, "y": {"datum": 1.0, "type": "quantitative"}}},
        {"data": {"name": "D"}, "transform": [{"filter": "datum.g == 'Control'"}], "mark": {"type": "point", "shape": "circle", "fill": "white", "stroke": "black", "strokeWidth": 2.7, "size": 36, "opacity": 1},
         "encoding": {
           "x": {"field": "x", "type": "quantitative", "scale": {"domain": [0.425, 3.54], "nice": false, "zero": false},
                 "axis": {"values": [1, 2, 3], "tickCount": 20, "labelOverlap": false, "labelExpr": "datum.value == 1 ? 'Control' : datum.value == 2 ? 'comp' : 'decomp'", "title": null, "domain": false, "tickSize": 7, "labelPadding": 0}},
           "y": {"field": "v", "type": "quantitative", "scale": {"domain": [1.0, 2.762], "nice": false, "zero": false},
                 "axis": {"values": [1, 1.5, 2, 2.5], "tickCount": 20, "labelOverlap": false, "format": ".1f", "domain": false, "offset": -8, "tickSize": 8, "labelPadding": 1, "title": "normalized impedence", "titleX": -48, "titleY": 203.5, "titleAngle": -90, "titleAlign": "center", "titleBaseline": "alphabetic"}}}},
        {"data": {"name": "D"}, "transform": [{"filter": "datum.g == 'comp'"}], "mark": {"type": "point", "shape": "circle", "fill": "black", "stroke": "black", "strokeWidth": 0.5, "size": 95, "opacity": 1},
         "encoding": {"x": {"field": "x", "type": "quantitative"}, "y": {"field": "v", "type": "quantitative"}}},
        {"data": {"name": "D"}, "transform": [{"filter": "datum.g == 'decomp'"}], "mark": {"type": "point", "shape": "circle", "fill": "#a3a3a3", "stroke": "black", "strokeWidth": 2.7, "size": 36, "opacity": 1},
         "encoding": {"x": {"field": "x", "type": "quantitative"}, "y": {"field": "v", "type": "quantitative"}}},
        {"data": {"name": "Dmed"}, "mark": {"type": "tick", "orient": "horizontal", "size": 69, "thickness": 4, "color": "black", "opacity": 1},
         "encoding": {"x": {"field": "x", "type": "quantitative"}, "y": {"field": "v", "type": "quantitative"}}},
        {"data": {"name": "one"}, "mark": {"type": "rule", "color": "black", "strokeWidth": 3},
         "encoding": {"x": {"datum": 0.977, "type": "quantitative"}, "x2": {"datum": 3.039}, "y": {"datum": 2.734, "type": "quantitative"}}},
        {"data": {"name": "one"}, "mark": {"type": "rule", "color": "black", "strokeWidth": 3},
         "encoding": {"x": {"datum": 0.977, "type": "quantitative"}, "x2": {"datum": 2.031}, "y": {"datum": 2.484, "type": "quantitative"}}},
        {"data": {"name": "one"}, "mark": {"type": "rule", "color": "black", "strokeWidth": 3},
         "encoding": {"x": {"datum": 1.746, "type": "quantitative"}, "x2": {"datum": 3.426}, "y": {"datum": 0.814, "type": "quantitative"}}},
        {"data": {"name": "one"}, "mark": {"type": "text", "text": "p", "fontStyle": "italic", "fontSize": 21.5, "baseline": "alphabetic", "align": "left"},
         "encoding": {"x": {"datum": 1.588, "type": "quantitative"}, "y": {"datum": 2.777, "type": "quantitative"}}},
        {"data": {"name": "one"}, "mark": {"type": "text", "text": "< 0.001", "fontSize": 21, "baseline": "alphabetic", "align": "left"},
         "encoding": {"x": {"datum": 1.756, "type": "quantitative"}, "y": {"datum": 2.777, "type": "quantitative"}}},
        {"data": {"name": "one"}, "mark": {"type": "text", "text": "p", "fontStyle": "italic", "fontSize": 21.5, "baseline": "alphabetic", "align": "left"},
         "encoding": {"x": {"datum": 1.084, "type": "quantitative"}, "y": {"datum": 2.524, "type": "quantitative"}}},
        {"data": {"name": "one"}, "mark": {"type": "text", "text": "> 0.05", "fontSize": 21.5, "baseline": "alphabetic", "align": "left"},
         "encoding": {"x": {"datum": 1.252, "type": "quantitative"}, "y": {"datum": 2.524, "type": "quantitative"}}},
        {"data": {"name": "one"}, "mark": {"type": "text", "text": "Cirrhosis", "fontSize": 22, "baseline": "alphabetic", "align": "center"},
         "encoding": {"x": {"datum": 2.5625, "type": "quantitative"}, "y": {"datum": 0.689, "type": "quantitative"}}},
        {"data": {"name": "one"}, "mark": {"type": "text", "text": "D", "fontSize": 32, "baseline": "alphabetic", "align": "center"},
         "encoding": {"x": {"datum": -0.174, "type": "quantitative"}, "y": {"datum": 2.838, "type": "quantitative"}}}
      ]
    }
  ]
}
